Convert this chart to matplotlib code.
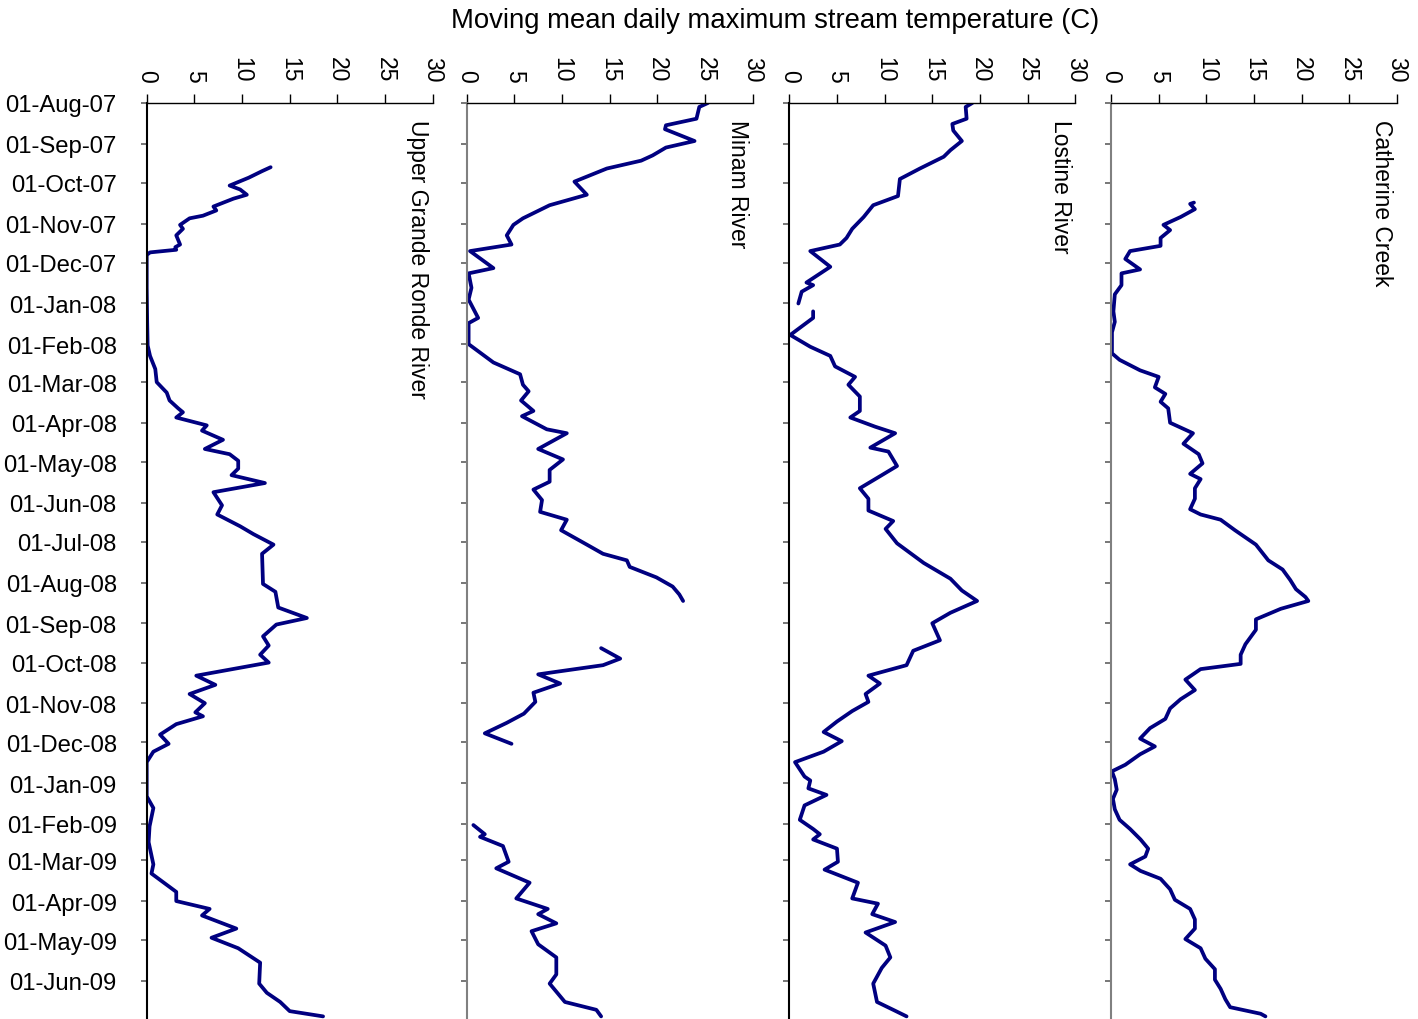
import numpy as np
import pandas as pd
import matplotlib
matplotlib.use("Agg")
import matplotlib.pyplot as plt
import matplotlib.dates as mdates

plt.rcParams["font.family"] = ["Liberation Sans", "DejaVu Sans"]

nan = np.nan

# Upper Grande Ronde River
ugr_dates = [
    "2007-09-19", "2007-09-22", "2007-09-27", "2007-10-03", "2007-10-06", "2007-10-10",
    "2007-10-13", "2007-10-19", "2007-10-22", "2007-10-26", "2007-10-28", "2007-11-02",
    "2007-11-05", "2007-11-10", "2007-11-17", "2007-11-19", "2007-11-21", "2007-11-23",
    "2007-11-25", "2007-12-20", "2008-01-15", "2008-02-02", "2008-02-10", "2008-02-20",
    "2008-03-01", "2008-03-09", "2008-03-15", "2008-03-21", "2008-03-24", "2008-03-28",
    "2008-04-03", "2008-04-07", "2008-04-14", "2008-04-21", "2008-04-25", "2008-04-30",
    "2008-05-06", "2008-05-11", "2008-05-17", "2008-05-24", "2008-06-03", "2008-06-10",
    "2008-06-19", "2008-06-25", "2008-07-03", "2008-07-10", "2008-08-02", "2008-08-08",
    "2008-08-20", "2008-08-28", "2008-09-02", "2008-09-11", "2008-09-18", "2008-09-25",
    "2008-10-01", "2008-10-11", "2008-10-18", "2008-10-25", "2008-11-01", "2008-11-08",
    "2008-11-11", "2008-11-17", "2008-11-25", "2008-12-02", "2008-12-08", "2008-12-16",
    "2009-01-11", "2009-01-20", "2009-02-03", "2009-02-15", "2009-03-04", "2009-03-11",
    "2009-03-25", "2009-04-01", "2009-04-07", "2009-04-12", "2009-04-22", "2009-04-29",
    "2009-05-07", "2009-05-18", "2009-06-03", "2009-06-10", "2009-06-17", "2009-06-24",
    "2009-06-28",
]
ugr_temp = [
    13.0, 12.1, 10.7, 8.7, 9.8, 10.5,
    9.1, 7.0, 7.3, 5.9, 4.5, 3.5,
    3.8, 3.1, 3.5, 3.0, 3.1, 0.35,
    0.0, 0.0, 0.05, 0.1, 0.35, 0.9,
    1.05, 2.1, 2.4, 3.3, 3.8, 3.1,
    6.3, 5.8, 8.0, 6.1, 8.7, 9.6,
    9.6, 8.9, 12.4, 7.0, 7.9, 7.4,
    9.8, 11.2, 13.3, 12.1, 12.2, 13.5,
    13.8, 16.8, 13.6, 12.2, 12.8, 11.9,
    12.8, 5.2, 7.2, 4.5, 6.1, 5.1,
    5.9, 3.1, 1.4, 2.3, 0.7, 0.0,
    0.0, 0.7, 0.3, 0.2, 0.7, 0.5,
    3.1, 3.1, 6.6, 5.8, 9.4, 6.8,
    9.6, 11.9, 11.8, 12.6, 14.0, 15.0,
    18.5,
]

# Minam River
minam_dates = [
    "2007-08-01", "2007-08-04", "2007-08-13", "2007-08-18", "2007-08-21", "2007-08-30",
    "2007-09-04", "2007-09-10", "2007-09-14", "2007-09-20", "2007-09-30", "2007-10-10",
    "2007-10-18", "2007-10-28", "2007-11-02", "2007-11-10", "2007-11-17", "2007-11-22",
    "2007-12-05", "2007-12-09", "2007-12-20", "2007-12-29", "2008-01-12", "2008-01-16",
    "2008-02-01", "2008-02-15", "2008-02-24", "2008-03-03", "2008-03-08", "2008-03-15",
    "2008-03-23", "2008-03-27", "2008-04-06", "2008-04-09", "2008-04-21", "2008-04-29",
    "2008-05-07", "2008-05-16", "2008-05-22", "2008-05-30", "2008-06-08", "2008-06-14",
    "2008-06-22", "2008-07-03", "2008-07-10", "2008-07-15", "2008-07-20", "2008-07-28",
    "2008-08-04", "2008-08-10", "2008-08-15", "2008-09-01", "2008-09-20", "2008-09-28",
    "2008-10-03", "2008-10-10", "2008-10-17", "2008-10-24", "2008-10-31", "2008-11-09",
    "2008-11-16", "2008-11-24", "2008-12-02", "2009-01-01", "2009-02-02", "2009-02-09",
    "2009-02-11", "2009-02-18", "2009-03-02", "2009-03-07", "2009-03-18", "2009-03-30",
    "2009-04-07", "2009-04-11", "2009-04-18", "2009-04-24", "2009-05-04", "2009-05-14",
    "2009-05-27", "2009-06-03", "2009-06-17", "2009-06-23", "2009-06-28",
]
minam_temp = [
    25.3, 24.4, 24.1, 20.9, 20.8, 23.9,
    20.9, 19.5, 18.3, 14.7, 11.3, 12.6,
    8.7, 5.9, 4.9, 4.2, 4.7, 0.35,
    2.8, 0.2, 0.5, 0.2, 1.2, 0.2,
    0.2, 2.8, 5.6, 5.9, 6.5, 5.7,
    7.0, 5.8, 8.4, 10.5, 7.5, 10.1,
    8.7, 8.7, 7.0, 7.9, 7.7, 10.5,
    9.9, 12.6, 14.3, 16.8, 17.1, 19.9,
    21.6, 22.3, 22.7, nan, 14.1, 16.1,
    14.3, 7.5, 9.8, 7.0, 7.2, 6.0,
    4.2, 1.9, 4.7, nan, 0.7, 1.9,
    1.4, 3.8, 4.4, 3.1, 6.6, 5.2,
    8.5, 7.5, 9.4, 6.8, 7.5, 9.4,
    9.4, 8.7, 10.3, 13.6, 14.1,
]

# Lostine River
lostine_dates = [
    "2007-08-01", "2007-08-04", "2007-08-13", "2007-08-17", "2007-08-22", "2007-08-30",
    "2007-09-06", "2007-09-11", "2007-09-20", "2007-09-28", "2007-10-11", "2007-10-18",
    "2007-10-27", "2007-11-05", "2007-11-12", "2007-11-17", "2007-11-22", "2007-12-04",
    "2007-12-16", "2007-12-18", "2007-12-23", "2008-01-01", "2008-01-04", "2008-01-07",
    "2008-01-12", "2008-01-25", "2008-02-03", "2008-02-10", "2008-02-18", "2008-02-26",
    "2008-03-03", "2008-03-12", "2008-03-20", "2008-03-23", "2008-03-28", "2008-04-04",
    "2008-04-09", "2008-04-20", "2008-04-23", "2008-05-04", "2008-05-11", "2008-05-21",
    "2008-05-29", "2008-06-07", "2008-06-15", "2008-06-21", "2008-07-02", "2008-07-17",
    "2008-07-29", "2008-08-07", "2008-08-15", "2008-08-24", "2008-09-01", "2008-09-14",
    "2008-09-22", "2008-10-03", "2008-10-11", "2008-10-17", "2008-10-25", "2008-10-31",
    "2008-11-07", "2008-11-15", "2008-11-23", "2008-11-30", "2008-12-08", "2008-12-16",
    "2008-12-27", "2008-12-30", "2009-01-05", "2009-01-10", "2009-01-18", "2009-01-29",
    "2009-02-05", "2009-02-09", "2009-02-13", "2009-02-20", "2009-03-02", "2009-03-08",
    "2009-03-18", "2009-03-30", "2009-04-03", "2009-04-11", "2009-04-17", "2009-04-25",
    "2009-05-05", "2009-05-14", "2009-05-22", "2009-06-03", "2009-06-17", "2009-06-23",
    "2009-06-28",
]
lostine_temp = [
    19.2, 18.5, 18.6, 17.1, 17.2, 18.1,
    16.9, 16.2, 13.7, 11.6, 11.4, 8.8,
    7.8, 6.6, 6.0, 5.3, 2.2, 4.3,
    1.8, 2.5, 1.3, 0.95, nan, 2.5,
    2.5, 0.1, 2.2, 4.3, 4.8, 6.9,
    6.2, 7.4, 7.4, 7.4, 6.4, 9.0,
    11.1, 8.5, 10.4, 11.3, 9.7, 7.4,
    8.3, 8.3, 10.9, 10.1, 11.3, 14.1,
    16.9, 18.1, 19.7, 16.9, 15.0, 15.8,
    13.0, 12.3, 8.3, 9.5, 8.0, 8.3,
    6.6, 5.0, 3.6, 5.5, 3.6, 0.6,
    1.6, 2.2, 2.0, 3.9, 1.6, 1.1,
    2.5, 3.2, 2.5, 5.0, 5.1, 3.7,
    7.2, 6.6, 9.3, 8.7, 11.1, 8.0,
    10.1, 10.6, 9.7, 8.8, 9.2, 10.9,
    12.3,
]

# Catherine Creek
catherine_dates = [
    "2007-10-16", "2007-10-17", "2007-10-21", "2007-10-27", "2007-11-02", "2007-11-06",
    "2007-11-12", "2007-11-18", "2007-11-22", "2007-11-28", "2007-12-06", "2007-12-09",
    "2007-12-18", "2007-12-25", "2008-01-07", "2008-01-15", "2008-01-23", "2008-02-08",
    "2008-02-13", "2008-02-21", "2008-02-26", "2008-03-05", "2008-03-10", "2008-03-16",
    "2008-03-21", "2008-04-01", "2008-04-09", "2008-04-17", "2008-04-25", "2008-05-02",
    "2008-05-10", "2008-05-14", "2008-05-21", "2008-05-29", "2008-06-06", "2008-06-10",
    "2008-06-14", "2008-06-22", "2008-07-03", "2008-07-15", "2008-07-22", "2008-07-30",
    "2008-08-06", "2008-08-12", "2008-08-15", "2008-08-21", "2008-08-29", "2008-09-06",
    "2008-09-17", "2008-09-25", "2008-10-02", "2008-10-06", "2008-10-14", "2008-10-22",
    "2008-10-29", "2008-11-05", "2008-11-13", "2008-11-20", "2008-11-28", "2008-12-04",
    "2008-12-10", "2008-12-18", "2008-12-23", "2008-12-29", "2009-01-06", "2009-01-13",
    "2009-01-21", "2009-01-29", "2009-02-05", "2009-02-13", "2009-02-20", "2009-02-26",
    "2009-03-04", "2009-03-09", "2009-03-15", "2009-03-23", "2009-03-31", "2009-04-07",
    "2009-04-15", "2009-04-22", "2009-04-30", "2009-05-07", "2009-05-15", "2009-05-23",
    "2009-05-31", "2009-06-07", "2009-06-15", "2009-06-21", "2009-06-26", "2009-06-28",
]
catherine_temp = [
    8.7, 8.3, 8.8, 7.3, 5.5, 6.2,
    5.2, 5.2, 2.0, 1.5, 3.05, 1.1,
    1.1, 0.4, 0.25, 0.4, 0.1, 0.1,
    0.9, 3.05, 5.0, 4.6, 5.7, 5.2,
    6.0, 6.2, 8.6, 7.6, 9.2, 9.6,
    8.3, 9.4, 8.8, 8.8, 8.3, 9.4,
    11.5, 13.0, 15.2, 16.5, 18.0, 18.8,
    19.4, 20.4, 20.7, 17.8, 15.2, 15.2,
    14.1, 13.6, 13.6, 9.4, 7.8, 8.8,
    7.3, 6.2, 5.7, 4.1, 3.05, 4.6,
    3.05, 1.5, 0.1, 0.4, 0.6, 0.2,
    0.4, 0.9, 2.0, 3.1, 3.9, 3.6,
    2.0, 3.1, 5.2, 6.2, 6.7, 8.3,
    8.8, 8.8, 7.8, 9.4, 9.9, 10.9,
    10.9, 11.5, 12.0, 12.5, 15.7, 16.2,
]

site_names = ["Upper Grande Ronde River", "Minam River", "Lostine River", "Catherine Creek"]
site_dates = [ugr_dates, minam_dates, lostine_dates, catherine_dates]
site_temps = [ugr_temp, minam_temp, lostine_temp, catherine_temp]

date_start = pd.Timestamp("2007-08-01")
date_end = pd.Timestamp("2009-06-30")
temp_ticks = [0, 5, 10, 15, 20, 25, 30]

fig = plt.figure(figsize=(14.18, 10.20), dpi=100)

lefts = [146.7, 466.7, 789.3, 1111.0]
width = 286.0
spine_colors = ["black", "#808080", "black", "#808080"]

for i, (name, dts, temps) in enumerate(zip(site_names, site_dates, site_temps)):
    ax = fig.add_axes([lefts[i] / 1418, 0.0, width / 1418, 916 / 1020])
    ax.plot(temps, pd.to_datetime(dts), color="#000080", lw=2.7,
            solid_joinstyle="round", solid_capstyle="round")
    ax.set_xlim(0, 30)
    ax.set_ylim(date_end, date_start)
    ax.xaxis.tick_top()
    ax.set_xticks(temp_ticks)
    ax.yaxis.set_major_locator(mdates.MonthLocator())
    ax.yaxis.set_major_formatter(mdates.DateFormatter("%d-%b-%y"))
    ax.tick_params(axis="x", direction="out", length=6.5, width=1, labelsize=16.5,
                   labelrotation=-90, pad=9)
    ax.tick_params(axis="y", direction="out", length=4, width=1.2, color="#606060",
                   labelsize=17.2, pad=17.5)
    if i > 0:
        ax.tick_params(axis="y", labelleft=False)
    ax.spines["right"].set_visible(False)
    ax.spines["bottom"].set_visible(False)
    ax.spines["left"].set_color(spine_colors[i])
    ax.spines["left"].set_linewidth(1.5)
    ax.spines["top"].set_linewidth(1.0)
    ax.text(28.4, pd.Timestamp("2007-08-13"), name, rotation=-90, ha="center",
            va="top", fontsize=16.5)

fig.text(775 / 1418, 1 - 21 / 1020, "Moving mean daily maximum stream temperature (C)",
         ha="center", va="center", fontsize=19.8)

plt.savefig("out.png", dpi=100)
plt.close()
